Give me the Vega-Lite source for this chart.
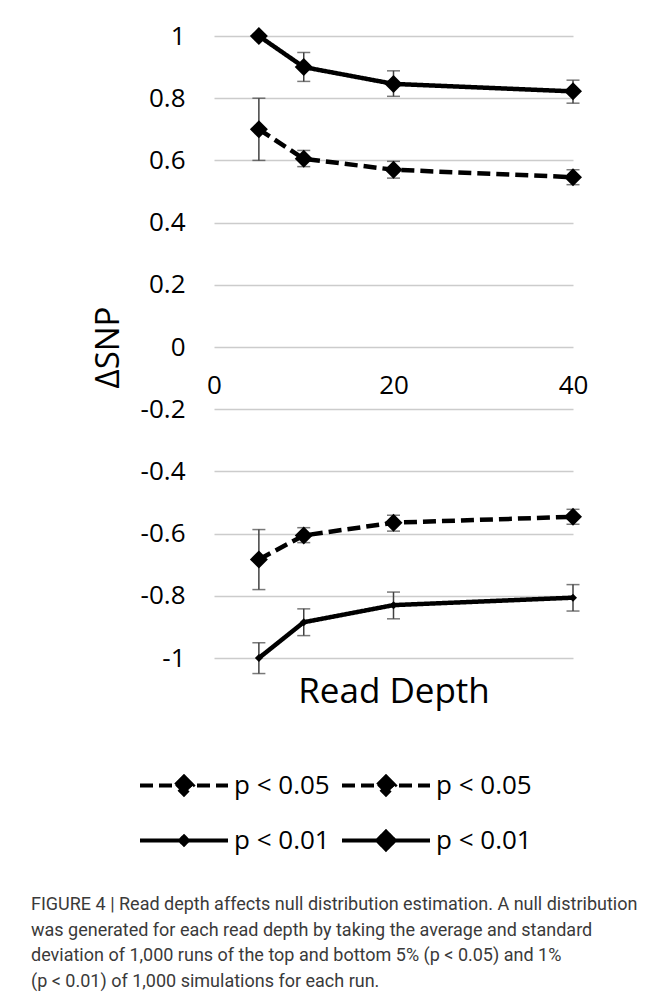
{
  "$schema": "https://vega.github.io/schema/vega-lite/v6.json",
  "width": 359,
  "height": 622,
  "padding": {"left": 31, "top": 23, "right": 5, "bottom": 5},
  "background": "white",
  "config": {
    "view": {"stroke": null},
    "font": "Open Sans",
    "axisX": {
      "orient": "bottom",
      "offset": -311,
      "domain": false,
      "ticks": false,
      "grid": false,
      "labelFlush": false,
      "labelFontSize": 26,
      "labelColor": "black",
      "labelPadding": 25,
      "titleFontSize": 35,
      "titleFontWeight": "normal",
      "titleColor": "black",
      "titleBaseline": "alphabetic",
      "titleY": 355,
      "titleX": 179.5
    },
    "axisY": {
      "domain": false,
      "ticks": false,
      "grid": true,
      "gridColor": "#cccccc",
      "gridWidth": 1.3,
      "labelFontSize": 26,
      "labelColor": "black",
      "labelPadding": 29,
      "titleFontSize": 33,
      "titleFontWeight": "normal",
      "titleColor": "black",
      "titleAngle": -90,
      "titleBaseline": "alphabetic",
      "titleAlign": "center",
      "titleX": -96,
      "titleY": 311
    }
  },
  "title": {
    "text": [
      "FIGURE 4 | Read depth affects null distribution estimation. A null distribution",
      "was generated for each read depth by taking the average and standard",
      "deviation of 1,000 runs of the top and bottom 5% (p < 0.05) and 1%",
      "(p < 0.01) of 1,000 simulations for each run."
    ],
    "orient": "bottom",
    "anchor": "start",
    "frame": "group",
    "dx": -183,
    "offset": 28,
    "font": "Roboto",
    "fontSize": 18,
    "fontWeight": "normal",
    "color": "#3a3a3a",
    "lineHeight": 25.5
  },
  "data": {
    "values": [
      {"depth": 5, "series": "a", "v": 0.70, "lo": 0.60, "hi": 0.80},
      {"depth": 10, "series": "a", "v": 0.605, "lo": 0.580, "hi": 0.632},
      {"depth": 20, "series": "a", "v": 0.570, "lo": 0.543, "hi": 0.597},
      {"depth": 40, "series": "a", "v": 0.546, "lo": 0.522, "hi": 0.570},
      {"depth": 5, "series": "b", "v": -0.683, "lo": -0.780, "hi": -0.587},
      {"depth": 10, "series": "b", "v": -0.606, "lo": -0.629, "hi": -0.581},
      {"depth": 20, "series": "b", "v": -0.565, "lo": -0.592, "hi": -0.541},
      {"depth": 40, "series": "b", "v": -0.546, "lo": -0.570, "hi": -0.522},
      {"depth": 5, "series": "c", "v": -1.0, "lo": -1.05, "hi": -0.951},
      {"depth": 10, "series": "c", "v": -0.885, "lo": -0.928, "hi": -0.842},
      {"depth": 20, "series": "c", "v": -0.830, "lo": -0.874, "hi": -0.788},
      {"depth": 40, "series": "c", "v": -0.806, "lo": -0.849, "hi": -0.764},
      {"depth": 5, "series": "d", "v": 1.0, "lo": 0.995, "hi": 1.005},
      {"depth": 10, "series": "d", "v": 0.90, "lo": 0.854, "hi": 0.947},
      {"depth": 20, "series": "d", "v": 0.846, "lo": 0.806, "hi": 0.888},
      {"depth": 40, "series": "d", "v": 0.822, "lo": 0.784, "hi": 0.858}
    ]
  },
  "layer": [
    {
      "mark": {
        "type": "errorbar",
        "ticks": {"size": 13, "thickness": 1.5, "color": "#404040"},
        "rule": {"strokeWidth": 1.5, "color": "#404040"}
      },
      "encoding": {
        "x": {"field": "depth", "type": "quantitative", "scale": {"domain": [0, 40], "nice": false},
          "axis": {"title": "Read Depth", "values": [0, 20, 40]}},
        "y": {"field": "lo", "type": "quantitative", "scale": {"domain": [-1, 1], "nice": false},
          "axis": {
            "title": "ΔSNP",
            "values": [-1, -0.8, -0.6, -0.4, -0.2, 0, 0.2, 0.4, 0.6, 0.8, 1],
            "labelExpr": "datum.value == 0 ? '0' : (datum.value < 0 ? '-' : '') + format(abs(datum.value), '.1~f')"
          }},
        "y2": {"field": "hi"}
      }
    },
    {
      "mark": {"type": "line", "color": "black", "strokeWidth": 4.5, "clip": false},
      "encoding": {
        "x": {"field": "depth", "type": "quantitative", "axis": {"title": "Read Depth", "values": [0, 20, 40]}},
        "y": {"field": "v", "type": "quantitative",
          "axis": {
            "title": "ΔSNP",
            "values": [-1, -0.8, -0.6, -0.4, -0.2, 0, 0.2, 0.4, 0.6, 0.8, 1],
            "labelExpr": "datum.value == 0 ? '0' : (datum.value < 0 ? '-' : '') + format(abs(datum.value), '.1~f')"
          }},
        "strokeDash": {
          "field": "series", "type": "nominal",
          "scale": {"domain": ["a", "b", "c", "d"], "range": [[13, 6], [13, 6], [1, 0], [1, 0]]},
          "legend": {
            "orient": "none",
            "direction": "horizontal",
            "legendX": -76,
            "legendY": 722,
            "columns": 2,
            "columnPadding": 10,
            "rowPadding": 0,
            "clipHeight": 55,
            "padding": 0,
            "title": null,
            "symbolType": "M-1,0H1M0,-0.2L0.2,0L0,0.2L-0.2,0Z",
            "symbolSize": 7744,
            "symbolStrokeWidth": 4,
            "symbolStrokeColor": "black",
            "symbolFillColor": "black",
            "labelFontSize": 26,
            "labelFont": "Open Sans",
            "labelColor": "black",
            "labelOffset": 4,
            "labelLimit": 300,
            "labelExpr": "datum.value == 'a' || datum.value == 'b' ? 'p < 0.05' : 'p < 0.01'",
            "encode": {
              "symbols": {
                "update": {
                  "shape": {"signal": "datum.value == 'c' ? 'M-1,0H1M0,-0.09L0.09,0L0,0.09L-0.09,0Z' : 'M-1,0H1M0,-0.2L0.2,0L0,0.2L-0.2,0Z'"},
                  "size": {"value": 7744},
                  "fill": {"value": "black"},
                  "stroke": {"value": "black"},
                  "strokeWidth": {"value": 4}
                }
              }
            }
          }
        }
      }
    },
    {
      "transform": [{"filter": "datum.series != 'c'"}],
      "mark": {"type": "point", "shape": "diamond", "filled": true, "color": "black", "opacity": 1, "size": 324, "clip": false},
      "encoding": {
        "x": {"field": "depth", "type": "quantitative"},
        "y": {"field": "v", "type": "quantitative"}
      }
    },
    {
      "transform": [{"filter": "datum.series == 'c'"}],
      "mark": {"type": "point", "shape": "diamond", "filled": true, "color": "black", "opacity": 1, "size": 64, "clip": false},
      "encoding": {
        "x": {"field": "depth", "type": "quantitative"},
        "y": {"field": "v", "type": "quantitative"}
      }
    }
  ]
}
